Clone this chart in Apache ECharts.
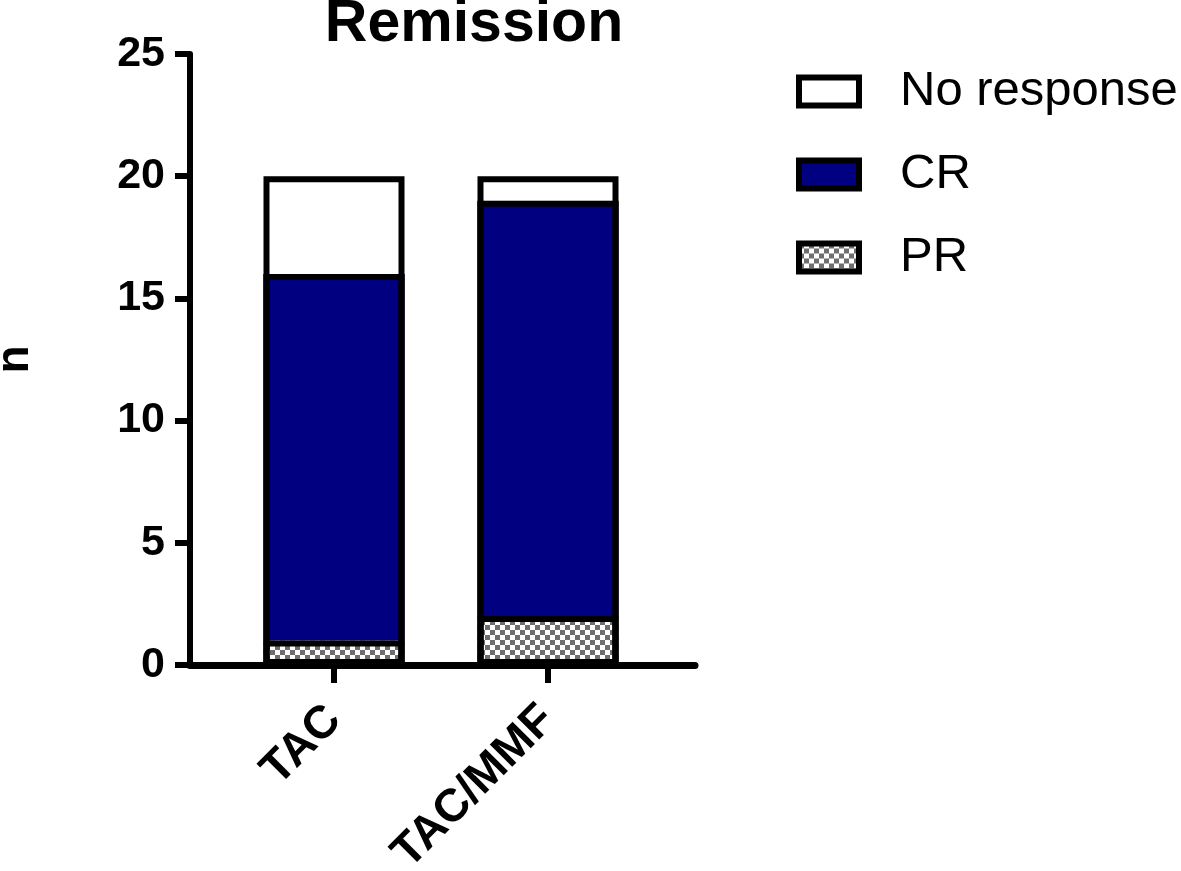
<!DOCTYPE html>
<html>
<head>
<meta charset="utf-8">
<script src="https://cdn.jsdelivr.net/npm/echarts@6/dist/echarts.min.js"></script>
<style>
html,body{margin:0;padding:0;background:#fff;}
#c{width:1181px;height:871px;}
</style>
</head>
<body>
<div id="c"></div>
<script>
var categories = ['TAC', 'TAC/MMF'];
var prValues = [1, 2];
var crValues = [15, 17];
var noResponseValues = [4, 1];
var yTicks = [0, 5, 10, 15, 20, 25];

var FONT = '"Liberation Sans", Arial, Helvetica, sans-serif';

function makeChecker() {
  var c = document.createElement('canvas');
  c.width = 10; c.height = 10;
  var g = c.getContext('2d');
  g.fillStyle = '#ffffff'; g.fillRect(0, 0, 10, 10);
  g.fillStyle = '#6e6e6e';
  g.fillRect(0, 0, 5, 5);
  g.fillRect(5, 5, 5, 5);
  return c;
}
var checker = makeChecker();

// cumulative tops of the stacked segments (used for the black outlines)
var cumPR = prValues.slice();
var cumCR = categories.map(function (_, i) { return prValues[i] + crValues[i]; });
var cumAll = categories.map(function (_, i) { return prValues[i] + crValues[i] + noResponseValues[i]; });

var chart = echarts.init(document.getElementById('c'), null, {renderer: 'canvas'});
var BW = 141;

function outline(name, data) {
  return {
    name: name, type: 'bar', xAxisIndex: 0, yAxisIndex: 0, barWidth: BW, barGap: '-100%',
    data: data, silent: true, z: 5,
    itemStyle: {color: 'rgba(0,0,0,0)', borderColor: '#000', borderWidth: 6}
  };
}

chart.setOption({
  animation: false,
  backgroundColor: '#fff',
  title: {
    text: 'Remission',
    left: 469, textAlign: 'center',
    top: -10,
    textStyle: {fontFamily: FONT, fontWeight: 'bold', fontSize: 59, color: '#000'}
  },
  legend: {
    orient: 'vertical',
    left: 791, top: 62,
    icon: 'rect',
    itemWidth: 60, itemHeight: 28,
    itemGap: 34,
    data: ['No response', 'CR', 'PR'],
    textStyle: {fontFamily: FONT, fontSize: 49, color: '#000', padding: [0, 0, 0, 36]},
    itemStyle: {borderColor: '#000', borderWidth: 6}
  },
  grid: [
    {left: 227, width: 428, top: 54, bottom: 206, containLabel: false, outerBoundsMode: 'none'},
    {left: 190, width: 505, top: 54, bottom: 206, containLabel: false, outerBoundsMode: 'none'}
  ],
  xAxis: [
    {
      type: 'category', gridIndex: 0, data: categories,
      axisLine: {show: true, lineStyle: {color: '#000', width: 7}},
      axisTick: {show: true, alignWithLabel: true, length: 18, lineStyle: {color: '#000', width: 6}},
      axisLabel: {rotate: 45, margin: 48, fontFamily: FONT, fontWeight: 'bold', fontSize: 46, color: '#000'}
    },
    {
      type: 'value', gridIndex: 1, min: 0, max: 1,
      axisLine: {show: true, lineStyle: {color: '#000', width: 7}},
      axisTick: {show: false}, axisLabel: {show: false}, splitLine: {show: false}
    }
  ],
  yAxis: [
    {type: 'value', gridIndex: 0, min: 0, max: 25, show: false, splitLine: {show: false}},
    {
      type: 'value', gridIndex: 1, min: yTicks[0], max: yTicks[yTicks.length - 1], interval: 5,
      name: 'n', nameLocation: 'middle', nameGap: 152, nameRotate: 90,
      nameTextStyle: {fontFamily: FONT, fontWeight: 'bold', fontSize: 46, color: '#000'},
      axisLine: {show: true, lineStyle: {color: '#000', width: 6}},
      axisTick: {show: true, length: 15, lineStyle: {color: '#000', width: 6}},
      axisLabel: {margin: 25, fontFamily: FONT, fontWeight: 'bold', fontSize: 43, color: '#000'},
      splitLine: {show: false}
    }
  ],
  series: [
    {
      name: 'PR', type: 'bar', stack: 'a', xAxisIndex: 0, yAxisIndex: 0, barWidth: BW, barGap: '-100%',
      data: prValues,
      itemStyle: {color: {image: checker, repeat: 'repeat'}, borderColor: '#000', borderWidth: 0}
    },
    {
      name: 'CR', type: 'bar', stack: 'a', xAxisIndex: 0, yAxisIndex: 0, barWidth: BW, barGap: '-100%',
      data: crValues,
      itemStyle: {color: '#000080', borderColor: '#000', borderWidth: 0}
    },
    {
      name: 'No response', type: 'bar', stack: 'a', xAxisIndex: 0, yAxisIndex: 0, barWidth: BW, barGap: '-100%',
      data: noResponseValues,
      itemStyle: {color: '#ffffff', borderColor: '#000', borderWidth: 0}
    },
    outline('outlinePR', cumPR),
    outline('outlineCR', cumCR),
    outline('outlineAll', cumAll)
  ]
});
</script>
</body>
</html>
